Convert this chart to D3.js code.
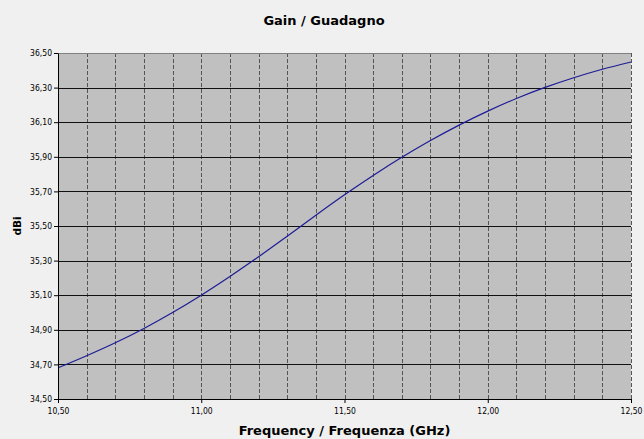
<!DOCTYPE html>
<html>
<head>
<meta charset="utf-8">
<script src="https://cdn.jsdelivr.net/npm/d3@7"></script>
<style>
  body { margin: 0; background: #f0f0f0; }
  svg { display: block; }
  .tick text { font-family: Tahoma, "DejaVu Sans Condensed", "DejaVu Sans", sans-serif; font-size: 8.5px; fill: #000; }
  .title { font-family: Verdana, "DejaVu Sans", sans-serif; font-weight: bold; font-size: 13px; }
  .axisText { font-family: Verdana, "DejaVu Sans", sans-serif; font-weight: bold; font-size: 13px; }
</style>
</head>
<body>
<div class="chart"></div>
<script>
// Data
let freqs = [10.5, 10.6, 10.7, 10.8, 10.9, 11.0, 11.1, 11.2, 11.3, 11.4, 11.5,
             11.6, 11.7, 11.8, 11.9, 12.0, 12.1, 12.2, 12.3, 12.4, 12.5];
let gainValues = [34.68, 34.75, 34.825, 34.908, 35.00, 35.10, 35.208, 35.322, 35.441, 35.562, 35.68,
                  35.792, 35.897, 35.994, 36.083, 36.164, 36.237, 36.301, 36.357, 36.406, 36.448];
let xTicks = [10.5, 11.0, 11.5, 12.0, 12.5];
let xGrid = [10.6, 10.7, 10.8, 10.9, 11.0, 11.1, 11.2, 11.3, 11.4, 11.5, 11.6,
             11.7, 11.8, 11.9, 12.0, 12.1, 12.2, 12.3, 12.4, 12.5];
let yTicks = [34.5, 34.7, 34.9, 35.1, 35.3, 35.5, 35.7, 35.9, 36.1, 36.3, 36.5];

// Set up chart
let svgWidth = 644;
let svgHeight = 439;
let margin = { top: 53, right: 13, bottom: 40, left: 58 };
let chartWidth = svgWidth - margin.left - margin.right;
let chartHeight = svgHeight - margin.top - margin.bottom;

let svg = d3.select(".chart")
  .append("svg")
  .attr("width", svgWidth)
  .attr("height", svgHeight);

let chart = svg.append("g")
  .attr("transform", `translate(${margin.left}, ${margin.top})`);

let xScale = d3.scaleLinear().domain([10.5, 12.5]).range([0, chartWidth]);
let yScale = d3.scaleLinear().domain([34.5, 36.5]).range([chartHeight, 0]);

let fmt = d => d3.format(".2f")(d).replace(".", ",");

// Plot area
chart.append("rect")
  .attr("width", chartWidth)
  .attr("height", chartHeight)
  .attr("fill", "#c0c0c0");

// Vertical dashed gridlines
chart.selectAll(".vgrid")
  .data(xGrid)
  .enter().append("line")
  .attr("x1", d => Math.round(xScale(d)) + 0.5)
  .attr("x2", d => Math.round(xScale(d)) + 0.5)
  .attr("y1", 0)
  .attr("y2", chartHeight)
  .attr("stroke", "#555")
  .attr("stroke-dasharray", "4,2");

// Horizontal gridlines
chart.selectAll(".hgrid")
  .data(yTicks.slice(1))
  .enter().append("line")
  .attr("x1", 0)
  .attr("x2", chartWidth)
  .attr("y1", d => Math.round(yScale(d)) + 0.5)
  .attr("y2", d => Math.round(yScale(d)) + 0.5)
  .attr("stroke", d => d === 36.5 ? "#808080" : "#111");

// Gain line
let line = d3.line()
  .x((d, i) => xScale(freqs[i]))
  .y(d => yScale(d))
  .curve(d3.curveMonotoneX);

chart.append("path")
  .datum(gainValues)
  .attr("d", line)
  .attr("fill", "none")
  .attr("stroke", "#1c1c96")
  .attr("stroke-width", 1.2);

// Axes
let bottomAxis = d3.axisBottom(xScale).tickValues(xTicks).tickFormat(fmt).tickSize(4).tickSizeOuter(0);
let leftAxis = d3.axisLeft(yScale).tickValues(yTicks).tickFormat(fmt).tickSize(4).tickSizeOuter(0);

chart.append("g")
  .attr("transform", `translate(0, ${chartHeight})`)
  .call(bottomAxis)
  .call(g => g.selectAll("text").attr("dy", "1.1em").attr("y", 6));

chart.append("g")
  .call(leftAxis)
  .call(g => g.selectAll("text").attr("x", -6));

chart.selectAll(".domain, .tick line").attr("stroke", "#000");

// Title
svg.append("text")
  .attr("class", "title")
  .attr("x", 324)
  .attr("y", 25)
  .attr("text-anchor", "middle")
  .text("Gain / Guadagno");

// Y-axis label
svg.append("text")
  .attr("class", "axisText")
  .style("font-size", "10.5px")
  .attr("transform", `translate(21, ${margin.top + chartHeight / 2}) rotate(-90)`)
  .attr("text-anchor", "middle")
  .text("dBi");

// X-axis label
svg.append("text")
  .attr("class", "axisText")
  .attr("x", margin.left + chartWidth / 2)
  .attr("y", 435)
  .attr("text-anchor", "middle")
  .text("Frequency / Frequenza (GHz)");
</script>
</body>
</html>
